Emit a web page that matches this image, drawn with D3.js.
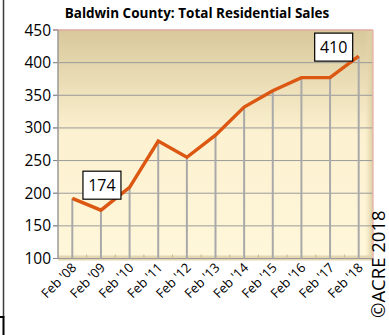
<!DOCTYPE html>
<html>
<head>
<meta charset="utf-8">
<script src="https://cdn.jsdelivr.net/npm/d3@7"></script>
<style>
  html, body { margin: 0; padding: 0; background: #fff; }
  svg { display: block; }
</style>
</head>
<body>
<svg id="chart" width="389" height="335"></svg>
<script>
// Total residential sales, Baldwin County, each February
const categories = ["Feb '08", "Feb '09", "Feb '10", "Feb '11", "Feb '12", "Feb '13",
                    "Feb '14", "Feb '15", "Feb '16", "Feb '17", "Feb '18"];
const sales = [192, 174, 209, 280, 255, 289, 332, 357, 377, 377, 410];
const yTicks = [100, 150, 200, 250, 300, 350, 400, 450];
const labelled = ["Feb '09", "Feb '18"];
const titleText = "Baldwin County: Total Residential Sales";
const creditText = "\u00A9ACRE 2018";

const svg = d3.select("#chart");
const plot = { left: 58, right: 373, top: 30, bottom: 258.5 };

const x = d3.scaleBand().domain(categories).range([plot.left, plot.right]);
const xc = d => x(d) + x.bandwidth() / 2;
const y = d3.scaleLinear().domain([100, 450]).range([plot.bottom, plot.top]);

const defs = svg.append("defs");
const wall = defs.append("linearGradient").attr("id", "wall")
  .attr("x1", 0).attr("y1", 0).attr("x2", 0).attr("y2", 1);
wall.append("stop").attr("offset", "0%").attr("stop-color", "#d8c89b");
wall.append("stop").attr("offset", "45%").attr("stop-color", "#fcf1d0");
wall.append("stop").attr("offset", "100%").attr("stop-color", "#fff7da");
const side = defs.append("linearGradient").attr("id", "side")
  .attr("x1", 0).attr("y1", 0).attr("x2", 1).attr("y2", 0);
side.append("stop").attr("offset", "0%").attr("stop-color", "#e9dcb4").attr("stop-opacity", 0);
side.append("stop").attr("offset", "100%").attr("stop-color", "#d9c99c").attr("stop-opacity", 1);

// outer frame pieces on the left edge
svg.append("line").attr("x1", 3.5).attr("x2", 3.5).attr("y1", 0).attr("y2", 318)
  .attr("stroke", "#3a3a3a").attr("stroke-width", 1.5);
svg.append("path").attr("d", "M0,317 H3.5 V335")
  .attr("fill", "none").attr("stroke", "#000").attr("stroke-width", 2);

// back wall
svg.append("rect")
  .attr("x", plot.left).attr("y", plot.top)
  .attr("width", plot.right - plot.left).attr("height", plot.bottom - plot.top)
  .attr("fill", "url(#wall)");
svg.append("rect")
  .attr("x", plot.right - 8).attr("y", plot.top)
  .attr("width", 8).attr("height", plot.bottom - plot.top)
  .attr("fill", "url(#side)");
// floor
svg.append("rect")
  .attr("x", plot.left).attr("y", plot.bottom - 3)
  .attr("width", plot.right - plot.left).attr("height", 5)
  .attr("fill", "#e4d6b0");

// horizontal gridlines
svg.append("g").selectAll("line").data(yTicks).join("line")
  .attr("x1", plot.left - 5).attr("x2", plot.right)
  .attr("y1", d => y(d)).attr("y2", d => y(d))
  .attr("stroke", d => d === 450 ? "#e0a8a0" : "#9a9a9a")
  .attr("stroke-width", d => d === 450 ? 1.5 : 1);
// tick stubs outside the value axis
svg.append("g").selectAll("line").data(yTicks).join("line")
  .attr("x1", plot.left - 5).attr("x2", plot.left)
  .attr("y1", d => y(d)).attr("y2", d => y(d))
  .attr("stroke", "#8a8a8a").attr("stroke-width", 1);
// plot border on right
svg.append("line").attr("x1", plot.right).attr("x2", plot.right)
  .attr("y1", plot.top).attr("y2", plot.bottom + 2)
  .attr("stroke", "#e7b8b0").attr("stroke-width", 1.5);
// value axis line
svg.append("line").attr("x1", plot.left).attr("x2", plot.left)
  .attr("y1", plot.top).attr("y2", plot.bottom)
  .attr("stroke", "#9a9a9a").attr("stroke-width", 1.5);

// category tick marks on the floor
svg.append("g").selectAll("line").data(categories.slice(1)).join("line")
  .attr("x1", d => x(d)).attr("x2", d => x(d))
  .attr("y1", plot.bottom - 4).attr("y2", plot.bottom)
  .attr("stroke", "#c8bb98").attr("stroke-width", 1);

// value labels
svg.append("g").selectAll("text").data(yTicks).join("text")
  .attr("x", 51).attr("y", d => y(d) + 5.5)
  .attr("text-anchor", "end")
  .attr("font-family", "'Open Sans', sans-serif").attr("font-size", 15.5)
  .attr("fill", "#000")
  .text(d => d);

// drop lines from each point to the floor
svg.append("g").selectAll("line").data(categories).join("line")
  .attr("x1", d => xc(d)).attr("x2", d => xc(d))
  .attr("y1", (d, i) => y(sales[i])).attr("y2", plot.bottom)
  .attr("stroke", "#a9a9a9").attr("stroke-width", 2);

// sales line
const line = d3.line().x(d => xc(d.cat)).y(d => y(d.val));
const pts = categories.map((c, i) => ({ cat: c, val: sales[i] }));
svg.append("path").datum(pts)
  .attr("d", line)
  .attr("fill", "none").attr("stroke", "#dc5712")
  .attr("stroke-width", 3.4).attr("stroke-linejoin", "miter");

// category labels
svg.append("g").selectAll("text").data(categories).join("text")
  .attr("transform", d => `translate(${xc(d) + 5},${plot.bottom + 10}) rotate(-45)`)
  .attr("text-anchor", "end")
  .attr("font-family", "'Open Sans', sans-serif").attr("font-size", 13)
  .attr("fill", "#000")
  .text(d => d);

// boxed data labels
const boxes = [
  { cat: labelled[0], dx: 1, dy: -25 },
  { cat: labelled[1], dx: -25, dy: -9 }
];
boxes.forEach(b => {
  const i = categories.indexOf(b.cat);
  const cx = xc(b.cat) + b.dx, cy = y(sales[i]) + b.dy;
  svg.append("rect")
    .attr("x", cx - 19).attr("y", cy - 14).attr("width", 38).attr("height", 28)
    .attr("fill", "#fff").attr("stroke", "#000").attr("stroke-width", 1.2);
  svg.append("text")
    .attr("x", cx).attr("y", cy + 6)
    .attr("text-anchor", "middle")
    .attr("font-family", "'Open Sans', sans-serif").attr("font-size", 16)
    .attr("fill", "#000")
    .text(sales[i]);
});

// title
svg.append("text")
  .attr("x", 197).attr("y", 18)
  .attr("text-anchor", "middle")
  .attr("font-family", "'Open Sans', sans-serif").attr("font-weight", "bold")
  .attr("font-size", 13.5)
  .attr("fill", "#000")
  .text(titleText);

// credit
svg.append("text")
  .attr("transform", "translate(385,318) rotate(-90)")
  .attr("font-family", "'Open Sans', sans-serif").attr("font-size", 18.5)
  .attr("fill", "#000")
  .text(creditText);
</script>
</body>
</html>
